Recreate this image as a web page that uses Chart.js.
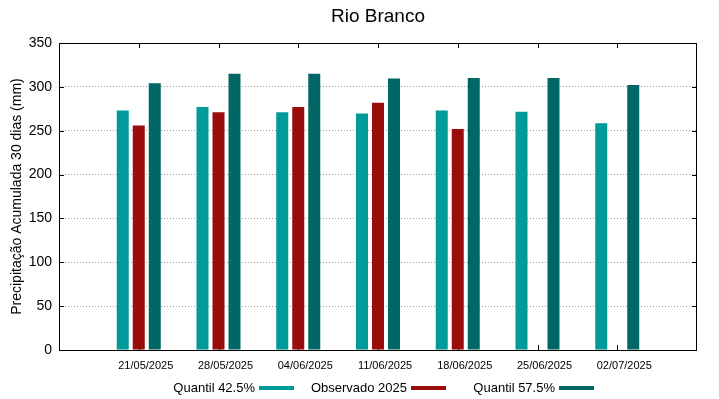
<!DOCTYPE html>
<html>
<head>
<meta charset="utf-8">
<title>Rio Branco</title>
<style>
  body { margin: 0; background: #fff; }
  #wrap { width: 719px; height: 399px; position: relative; }
</style>
</head>
<body>
<div id="wrap"><canvas id="myChart"></canvas></div>
<script src="https://cdn.jsdelivr.net/npm/chart.js"></script>
<script>
// dates of each group
const dates = ["21/05/2025", "28/05/2025", "04/06/2025", "11/06/2025", "18/06/2025", "25/06/2025", "02/07/2025"];
// values (mm)
const q425 = [273, 277, 271, 269.5, 273, 271.5, 258.5];
const obs2025 = [256, 271, 277, 282, 252, null, null];
const q575 = [304, 315, 315, 309.5, 310, 310, 302];
const yTicks = [0, 50, 100, 150, 200, 250, 300, 350];

const colQ425 = "#009a9a";
const colObs = "#990d0d";
const colQ575 = "#006666";

Chart.defaults.font.family = "'Liberation Sans', Arial, sans-serif";
Chart.defaults.color = "#000";

const pts = (arr) => arr.map((v, i) => ({ x: i, y: v }));

// frame, mirrored ticks, title and gnuplot style key
const decor = {
  id: "decor",
  beforeDatasetsDraw(chart) {
    const { ctx, chartArea: a, scales } = chart;
    ctx.save();
    ctx.strokeStyle = "#000";
    ctx.lineWidth = 1;
    ctx.beginPath();
    dates.forEach((d, i) => {
      const x = Math.round(scales.x.getPixelForValue(i)) + 0.5;
      ctx.moveTo(x, a.bottom); ctx.lineTo(x, a.bottom - 5);
      ctx.moveTo(x, a.top); ctx.lineTo(x, a.top + 5);
    });
    yTicks.forEach((v) => {
      const y = Math.round(scales.y.getPixelForValue(v)) + 0.5;
      ctx.moveTo(a.left, y); ctx.lineTo(a.left + 5, y);
      ctx.moveTo(a.right, y); ctx.lineTo(a.right - 5, y);
    });
    ctx.stroke();
    ctx.restore();
  },
  afterDraw(chart) {
    const { ctx, chartArea: a } = chart;
    ctx.save();
    ctx.strokeStyle = "#000";
    ctx.lineWidth = 1;
    ctx.strokeRect(Math.round(a.left) + 0.5, Math.round(a.top) + 0.5,
      Math.round(a.right - a.left) - 1, Math.round(a.bottom - a.top));

    ctx.fillStyle = "#000";
    ctx.font = "19px 'Liberation Sans', Arial, sans-serif";
    ctx.textAlign = "center";
    ctx.textBaseline = "alphabetic";
    ctx.fillText("Rio Branco", (a.left + a.right) / 2, 22);

    const key = [
      { text: "Quantil 42.5%", color: colQ425, sx: 259 },
      { text: "Observado 2025", color: colObs, sx: 411 },
      { text: "Quantil 57.5%", color: colQ575, sx: 559 },
    ];
    ctx.font = "13px 'Liberation Sans', Arial, sans-serif";
    ctx.textAlign = "right";
    key.forEach((k) => {
      ctx.fillStyle = "#000";
      ctx.fillText(k.text, k.sx - 4, 392);
      ctx.fillStyle = k.color;
      ctx.fillRect(k.sx, 386, 35, 4);
    });
    ctx.restore();
  },
};

new Chart(document.getElementById("myChart"), {
  type: "bar",
  data: {
    datasets: [
      { label: "Quantil 42.5%", data: pts(q425), backgroundColor: colQ425 },
      { label: "Observado 2025", data: pts(obs2025), backgroundColor: colObs },
      { label: "Quantil 57.5%", data: pts(q575), backgroundColor: colQ575 },
    ],
  },
  options: {
    responsive: true,
    maintainAspectRatio: false,
    animation: false,
    categoryPercentage: 0.602,
    barPercentage: 0.75,
    layout: { padding: { left: 0, right: 22, top: 43, bottom: 0 } },
    plugins: {
      legend: { display: false },
      title: { display: false },
      tooltip: { enabled: false },
    },
    scales: {
      x: {
        type: "linear",
        offset: false,
        min: -1,
        max: 7,
        afterFit: (s) => { s.height = 49; },
        afterBuildTicks: (s) => { s.ticks = dates.map((d, i) => ({ value: i })); },
        grid: { display: false, drawTicks: false, offset: false },
        border: { display: false },
        ticks: {
          autoSkip: false,
          maxRotation: 0,
          padding: 9,
          labelOffset: 7,
          font: { size: 11 },
          callback: (v) => dates[v] ?? "",
        },
      },
      y: {
        min: 0,
        max: 350,
        afterFit: (s) => { s.width = 59; },
        afterBuildTicks: (s) => { s.ticks = yTicks.map((v) => ({ value: v })); },
        grid: {
          color: (c) => (c.tick && (c.tick.value === 0 || c.tick.value === 350) ? "rgba(0,0,0,0)" : "#a0a0a0"),
          drawTicks: false,
        },
        border: { display: false, dash: [1, 2] },
        ticks: { padding: 7, font: { size: 14 } },
        title: {
          display: true,
          text: "Precipitação Acumulada 30 dias (mm)",
          font: { size: 14 },
          padding: { top: 9, bottom: 0 },
        },
      },
    },
  },
  plugins: [decor],
});
</script>
</body>
</html>
